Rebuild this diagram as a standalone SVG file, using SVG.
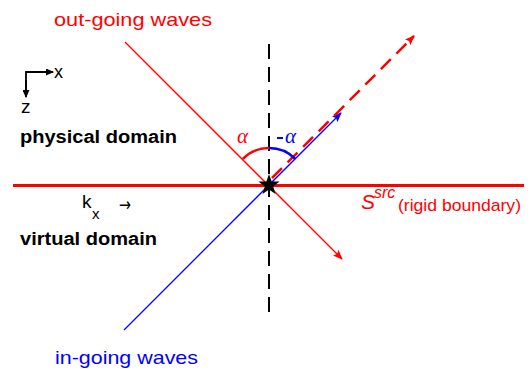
<svg xmlns="http://www.w3.org/2000/svg" width="531" height="371" viewBox="0 0 531 371">
<style>
.t{font-family:"Liberation Sans",Arial,sans-serif}
.red{fill:#ff0000}
.blue{fill:#0000ff}
.blk{fill:#000}
.b{font-weight:bold}
.g{font-family:"Liberation Serif","Times New Roman",serif;font-style:italic}
</style>
<defs>
<marker id="ar" markerWidth="10" markerHeight="8" refX="9" refY="4" orient="auto" markerUnits="userSpaceOnUse"><path d="M0,0 L10,4 L0,8 L2,4 Z" fill="#ff0000"/></marker>
<marker id="ab" markerWidth="10" markerHeight="8" refX="9" refY="4" orient="auto" markerUnits="userSpaceOnUse"><path d="M0,0 L10,4 L0,8 L2,4 Z" fill="#0000ff"/></marker>
<marker id="ak" markerWidth="8" markerHeight="7" refX="7" refY="3.5" orient="auto" markerUnits="userSpaceOnUse"><path d="M0,0 L8,3.5 L0,7 Z" fill="#000"/></marker>
</defs>
<g id="connectors">
<line x1="13" y1="185.5" x2="524" y2="185.5" stroke="#ff0000" stroke-width="3.2"/>
<line x1="269" y1="44" x2="269" y2="314" stroke="#000" stroke-width="2" stroke-dasharray="15 8"/>
<line x1="125" y1="42" x2="342" y2="259" stroke="#ff0000" stroke-width="1.3" marker-end="url(#ar)"/>
<line x1="124" y1="330" x2="341" y2="113" stroke="#0000ff" stroke-width="1.3" marker-end="url(#ab)"/>
<line x1="272" y1="178" x2="414" y2="36" stroke="#ff0000" stroke-width="2.5" stroke-dasharray="14 8" marker-end="url(#ar)"/>
<path d="M242.8,158.8 A37,37 0 0 1 269,148" fill="none" stroke="#ff0000" stroke-width="2.5"/>
<path d="M269,148 A37,37 0 0 1 295.2,158.8" fill="none" stroke="#0000ff" stroke-width="2.5"/>
</g>
<g id="source">
<polygon points="269,174 271.6,181.4 279.5,181.6 273.2,186.4 275.5,194 269,189.5 262.5,194 264.8,186.4 258.5,181.6 266.4,181.4" fill="#000"/>
</g>
<g id="axes">
<path d="M26,90 L26,72 L46,72" fill="none" stroke="#000" stroke-width="1.8"/>
<line x1="26" y1="80" x2="26" y2="97" stroke="#000" stroke-width="1.8" marker-end="url(#ak)"/>
<line x1="40" y1="72" x2="53" y2="72" stroke="#000" stroke-width="1.8" marker-end="url(#ak)"/>
<text class="t blk" x="54" y="78" font-size="18">x</text>
<text class="t blk" x="21" y="113" font-size="19">z</text>
</g>
<g id="labels">
<text class="t red" x="54" y="26" font-size="19" textLength="158" lengthAdjust="spacingAndGlyphs">out-going waves</text>
<text class="t blue" x="55" y="364" font-size="19" textLength="143" lengthAdjust="spacingAndGlyphs">in-going waves</text>
<text class="t blk b" x="20" y="143" font-size="18" textLength="157" lengthAdjust="spacingAndGlyphs">physical domain</text>
<text class="t blk b" x="20" y="245" font-size="18" textLength="137" lengthAdjust="spacingAndGlyphs">virtual domain</text>
<text class="t blk" x="82" y="208" font-size="19">k</text>
<text class="t blk" x="92" y="219" font-size="15">x</text>
<text x="119" y="211" font-size="19" font-family="'DejaVu Sans',sans-serif" fill="#000" textLength="12" lengthAdjust="spacingAndGlyphs">→</text>
<text class="g red" x="237" y="143" font-size="21">α</text>
<rect x="277" y="137" width="6" height="2" fill="#0000ff"/>
<text class="g blue" x="285" y="143" font-size="21">α</text>
<text class="t red" x="361" y="209" font-size="21" font-style="italic">S</text>
<text class="t red" x="374" y="198" font-size="16" font-style="italic">src</text>
<text class="t red" x="398" y="211" font-size="17" textLength="123" lengthAdjust="spacingAndGlyphs">(rigid boundary)</text>
</g>
</svg>
